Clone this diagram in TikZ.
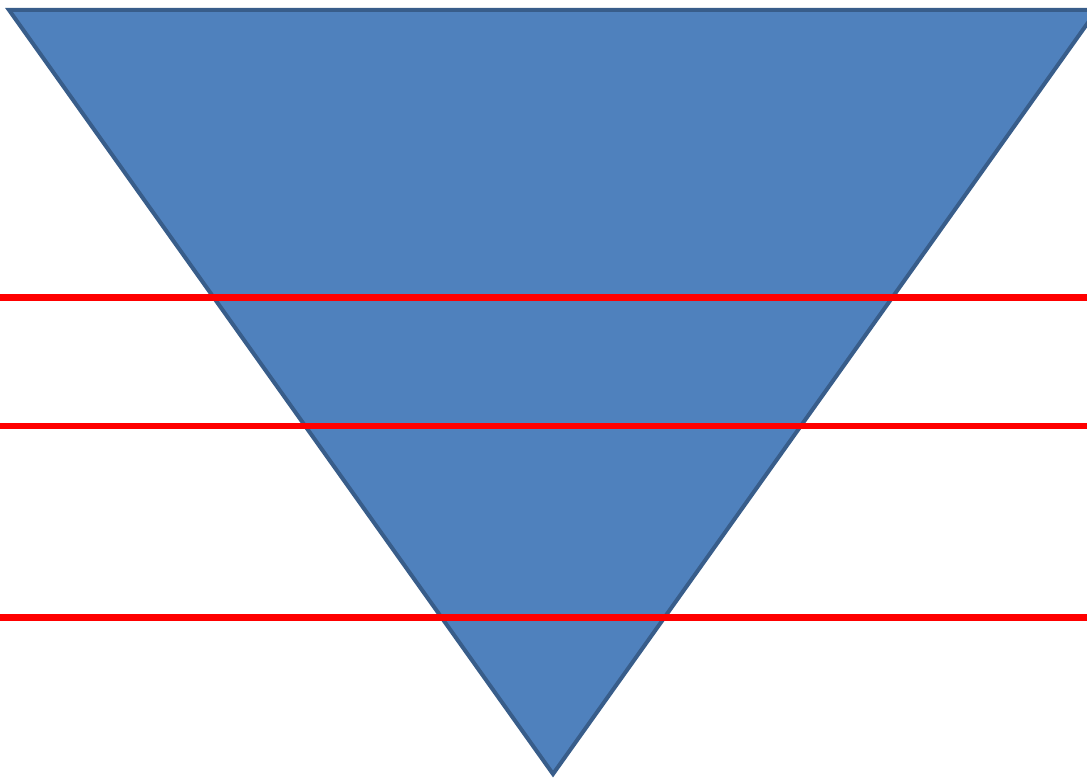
\documentclass[tikz,border=0pt]{standalone}
\definecolor{tfill}{HTML}{4F81BD}
\definecolor{tline}{HTML}{385D8A}
\definecolor{rline}{HTML}{FF0000}
\tikzset{tri/.style={fill=tfill,draw=tline,line width=4pt,line join=miter},
  redline/.style={draw=rline,line width=6.5pt}}
\begin{document}
\begin{tikzpicture}[x=1pt,y=-1pt]
\useasboundingbox (0,0) rectangle (1087,778);
\clip (0,0) rectangle (1087,778);
\coordinate (tl) at (9,10);
\coordinate (tr) at (1097,10);
\coordinate (bot) at (553,774);
\draw[tri] (tl) -- (tr) -- (bot) -- cycle;
\coordinate (a1) at (0,297.5); \coordinate (b1) at (1087,297.5);
\coordinate (a2) at (0,426); \coordinate (b2) at (1087,426);
\coordinate (a3) at (0,617.5); \coordinate (b3) at (1087,617.5);
\draw[redline] (a1) -- (b1);
\draw[redline] (a2) -- (b2);
\draw[redline] (a3) -- (b3);
\end{tikzpicture}
\end{document}
